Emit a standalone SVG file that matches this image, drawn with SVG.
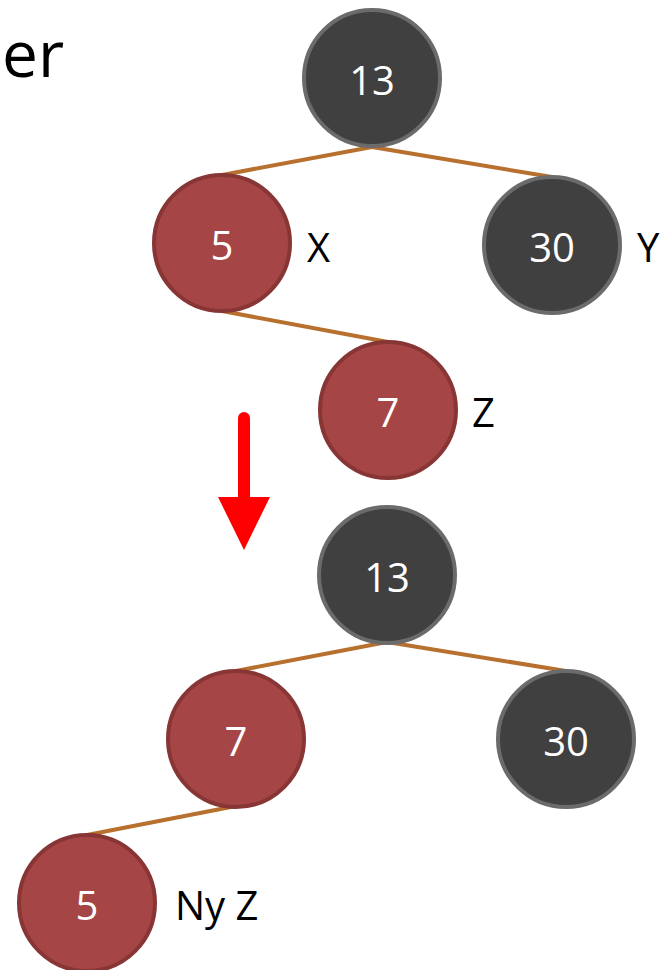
<svg xmlns="http://www.w3.org/2000/svg" width="671" height="970" viewBox="0 0 671 970">
<defs>
<style>
.blk{fill:#404040;stroke:#6b6b6b;stroke-width:4}
.red{fill:#a64545;stroke:#873535;stroke-width:4}
.num{fill:#fff;font-family:"Open Sans","Liberation Sans",sans-serif;font-size:40px;text-anchor:middle}
.lbl{fill:#000;font-family:"Open Sans","Liberation Sans",sans-serif;font-size:40px}
.edge{stroke:#b8702f;stroke-width:4;stroke-linecap:round;fill:none}
</style>
</defs>
<rect width="671" height="970" fill="#fff"/>
<text x="2" y="77" class="lbl" style="font-size:64px">er</text>
<g id="connectors">
<line class="edge" x1="372" y1="147" x2="222" y2="175"/>
<line class="edge" x1="372" y1="147" x2="552" y2="177"/>
<line class="edge" x1="222" y1="311" x2="388" y2="342"/>
<line class="edge" x1="387" y1="642" x2="236" y2="671"/>
<line class="edge" x1="387" y1="642" x2="566" y2="671"/>
<line class="edge" x1="236" y1="806" x2="87" y2="835"/>
</g>
<g id="n13a"><circle class="blk" cx="372" cy="78" r="68"/><text class="num" x="372" y="95">13</text></g>
<g id="n5a"><circle class="red" cx="222" cy="243" r="68"/><text class="num" x="222" y="260">5</text><text class="lbl" x="307" y="262">X</text></g>
<g id="n30a"><circle class="blk" cx="552" cy="245" r="68"/><text class="num" x="552" y="262">30</text><text class="lbl" x="637" y="262">Y</text></g>
<g id="n7a"><circle class="red" cx="388" cy="410" r="68"/><text class="num" x="388" y="427">7</text><text class="lbl" x="472" y="427">Z</text></g>
<g id="arrow">
<line x1="244" y1="418" x2="244" y2="500" stroke="#ff0000" stroke-width="12" stroke-linecap="round"/>
<polygon points="218,497 270,497 244,550" fill="#ff0000"/>
</g>
<g id="n13b"><circle class="blk" cx="387" cy="575" r="68"/><text class="num" x="387" y="592">13</text></g>
<g id="n7b"><circle class="red" cx="236" cy="739" r="68"/><text class="num" x="236" y="756">7</text></g>
<g id="n30b"><circle class="blk" cx="566" cy="739" r="68"/><text class="num" x="566" y="756">30</text></g>
<g id="n5b"><circle class="red" cx="87" cy="903" r="68"/><text class="num" x="87" y="920">5</text><text class="lbl" x="175" y="920">Ny Z</text></g>
</svg>
